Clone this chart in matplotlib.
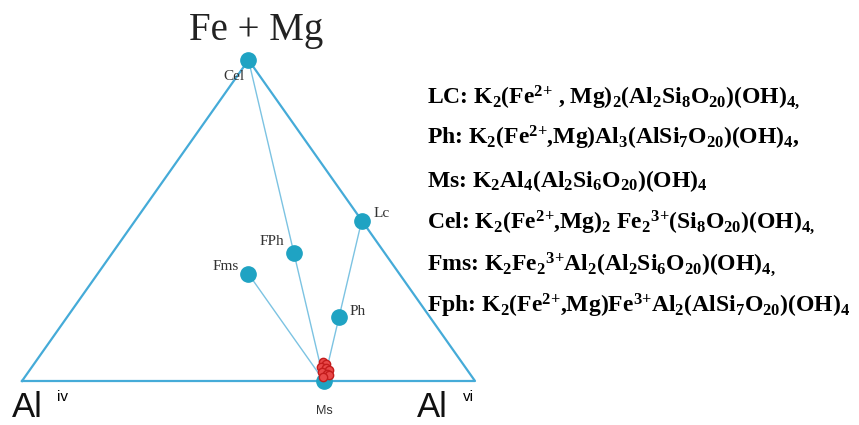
import matplotlib
matplotlib.use("Agg")
import matplotlib.pyplot as plt

plt.rcParams["mathtext.default"] = "regular"

# ternary compositions: (Fe+Mg, Al vi) fractions, Al iv = rest
end_names = ["Cel", "Lc", "FPh", "Fms", "Ph", "Ms"]
end_femg = [1.0, 0.5, 0.4, 1 / 3, 0.2, 0.0]
end_alvi = [0.0, 0.5, 0.4, 1 / 3, 0.6, 2 / 3]

# measured samples near Ms
sample_femg = [0.060, 0.052, 0.045, 0.040, 0.034, 0.028, 0.022, 0.018, 0.012]
sample_alvi = [0.634, 0.646, 0.638, 0.650, 0.660, 0.648, 0.662, 0.668, 0.658]

formulas = [
    r"LC: K$_2$(Fe$^{2\!+}\!$ , Mg)$_2$(Al$_2$Si$_8$O$_{20}$)(OH)$_{4,}$",
    r"Ph: K$_2$(Fe$^{2\!+}\!$,Mg)Al$_3$(AlSi$_7$O$_{20}$)(OH)$_4$,",
    r"Ms: K$_2$Al$_4$(Al$_2$Si$_6$O$_{20}$)(OH)$_4$",
    r"Cel: K$_2$(Fe$^{2\!+}\!$,Mg)$_2$ Fe$_2$$^{3\!+}\!$(Si$_8$O$_{20}$)(OH)$_{4,}$",
    r"Fms: K$_2$Fe$_2$$^{3\!+}\!$Al$_2$(Al$_2$Si$_6$O$_{20}$)(OH)$_{4,}$",
    r"Fph: K$_2$(Fe$^{2\!+}\!$,Mg)Fe$^{3\!+}\!$Al$_2$(AlSi$_7$O$_{20}$)(OH)$_4$",
]


def to_xy(femg, alvi):
    x = [b + a / 2 for a, b in zip(femg, alvi)]
    return x, list(femg)


W, H = 859, 425
fig = plt.figure(figsize=(W / 100, H / 100), dpi=100)
ax = fig.add_axes([22 / W, (H - 381) / H, 453 / W, 321 / H])
ax.set_xlim(0, 1)
ax.set_ylim(0, 1)
ax.axis("off")

line_c = "#45abd8"
dot_c = "#1fa3c3"

# outer triangle
tx, ty = to_xy([0, 0, 1, 0], [0, 1, 0, 0])
ax.plot(tx, ty, color=line_c, lw=1.6, clip_on=False)

ex, ey = to_xy(end_femg, end_alvi)
pos = dict(zip(end_names, zip(ex, ey)))

# tie lines to Ms
for n in ["Cel", "Lc", "Fms"]:
    ax.plot([pos[n][0], pos["Ms"][0]], [pos[n][1], pos["Ms"][1]],
            color="#7cc3e2", lw=1.0, clip_on=False)

ax.plot(ex, ey, "o", color=dot_c, ms=11, clip_on=False, zorder=3)

sx, sy = to_xy(sample_femg, sample_alvi)
ax.plot(sx, sy, "o", ms=6, mfc="#e94848", mec="#c41c1c", mew=1.0,
        clip_on=False, zorder=4)

lab_kw = dict(family="Liberation Serif", fontsize=11, color="#333333")
offsets = {"Cel": (-15, -17, "center"), "Lc": (12, 7, "left"),
           "FPh": (-10, 11, "right"), "Fms": (-10, 8, "right"),
           "Ph": (10, 5, "left")}
for n, (dx, dy, ha) in offsets.items():
    ax.annotate(n, pos[n], xytext=(dx, dy), textcoords="offset pixels",
                ha=ha, va="center", **lab_kw)
ax.annotate("Ms", pos["Ms"], xytext=(0, -30), textcoords="offset pixels",
            ha="center", va="center", family="Liberation Sans", fontsize=9,
            color="#333333")

fig.text(256 / W, 1 - 40 / H, "Fe + Mg", family="Liberation Serif",
         fontsize=28, ha="center", va="baseline", color="#222222")
fig.text(12 / W, 1 - 424 / H, "Al", family="Liberation Sans", fontsize=25,
         ha="left", va="bottom", color="#111111")
fig.text(57 / W, 1 - 401 / H, "iv", family="Liberation Sans", fontsize=11,
         ha="left", va="baseline")
fig.text(417 / W, 1 - 424 / H, "Al", family="Liberation Sans", fontsize=25,
         ha="left", va="bottom", color="#111111")
fig.text(463 / W, 1 - 401 / H, "vi", family="Liberation Sans", fontsize=11,
         ha="left", va="baseline")

for i, f in enumerate(formulas):
    yb = 103 + i * 41.8
    fig.text(427 / W, 1 - yb / H, f, family="Liberation Serif",
             fontweight="bold", fontsize=17, ha="left", va="baseline")

fig.savefig("out.png", dpi=100)
